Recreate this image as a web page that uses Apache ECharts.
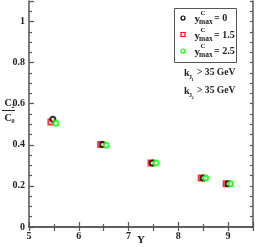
<!DOCTYPE html>
<html><head><meta charset="utf-8">
<script src="https://cdn.jsdelivr.net/npm/echarts@6/dist/echarts.min.js"></script>
<style>html,body{margin:0;padding:0;background:#fff}#c{width:256px;height:247px}</style>
</head><body><div id="c"></div>
<script>
const xBlack = [5.48, 6.48, 7.48, 8.5, 9.0];
const yBlack = [0.525, 0.402, 0.312, 0.238, 0.211];
const xRed = [5.44, 6.44, 7.45, 8.46, 8.96];
const yRed = [0.511, 0.402, 0.311, 0.238, 0.211];
const xGreen = [5.54, 6.55, 7.55, 8.55, 9.05];
const yGreen = [0.505, 0.398, 0.311, 0.238, 0.211];
const xTicks = [5, 6, 7, 8, 9];
const yTicks = [0, 0.2, 0.4, 0.6, 0.8, 1];
const legendValues = ['0', '1.5', '2.5'];

const F = 'Liberation Serif';
const axisCol = '#555';
const txt = '#222';
const pair = (xs, ys) => xs.map((x, i) => [x, ys[i]]);
const chart = echarts.init(document.getElementById('c'));
const lbl = {fontFamily: F, fontWeight: 'bold', fontSize: 10, color: txt};
const T = (x, y, text, size) => ({type: 'text', x, y, z: 10, style: {text, font: 'bold ' + size + 'px ' + F, fill: txt, textVerticalAlign: 'middle'}});
chart.setOption({
  animation: false,
  grid: {left: 29, right: 1, top: 1, bottom: 20},
  xAxis: [{
    type: 'value', min: 5, max: 9.5, interval: 1,
    axisLine: {lineStyle: {color: axisCol, width: 1.5}},
    axisTick: {inside: true, length: 5, lineStyle: {color: axisCol, width: 1.2}},
    minorTick: {show: true, splitNumber: 2, length: 3, lineStyle: {color: axisCol, width: 1.2}},
    splitLine: {show: false},
    axisLabel: Object.assign({margin: 4, formatter: v => xTicks.includes(v) ? String(v) : ''}, lbl)
  }, {
    type: 'value', position: 'top', min: 5, max: 9.5, interval: 0.5,
    axisLine: {lineStyle: {color: axisCol, width: 1.5}},
    axisTick: {inside: true, length: 4, lineStyle: {color: axisCol, width: 1.2}},
    splitLine: {show: false}, axisLabel: {show: false}
  }],
  yAxis: [{
    type: 'value', min: 0, max: 1.1, interval: 0.2,
    axisLine: {show: true, lineStyle: {color: axisCol, width: 1.5}},
    axisTick: {show: true, inside: true, length: 5, lineStyle: {color: axisCol, width: 1.2}},
    minorTick: {show: true, splitNumber: 4, length: 3, lineStyle: {color: axisCol, width: 1.2}},
    splitLine: {show: false},
    axisLabel: Object.assign({margin: 4, formatter: v => yTicks.some(t => Math.abs(t - v) < 1e-6) ? String(+v.toFixed(1)) : ''}, lbl)
  }, {
    type: 'value', position: 'right', min: 0, max: 1.1, interval: 0.05,
    axisLine: {show: true, lineStyle: {color: axisCol, width: 1.5}},
    axisTick: {show: true, inside: true, length: 3, lineStyle: {color: axisCol, width: 1.2}},
    splitLine: {show: false}, axisLabel: {show: false}
  }],
  series: [
    {type: 'scatter', data: pair(xRed, yRed), symbol: 'emptyRect', symbolSize: 5,
     itemStyle: {color: '#f00', borderColor: '#f00', borderWidth: 1.5}},
    {type: 'scatter', data: pair(xBlack, yBlack), symbol: 'emptyCircle', symbolSize: 5,
     itemStyle: {color: '#000', borderColor: '#000', borderWidth: 1.2}},
    {type: 'scatter', data: pair(xGreen, yGreen), symbol: 'emptyCircle', symbolSize: 5,
     itemStyle: {color: '#0f0', borderColor: '#0f0', borderWidth: 1.5}}
  ],
  graphic: [
    {type: 'rect', shape: {x: 174.5, y: 8.5, width: 62, height: 54}, style: {fill: '#fff', stroke: '#555', lineWidth: 1}},
    {type: 'circle', shape: {cx: 183, cy: 18, r: 2}, style: {fill: 'none', stroke: '#000', lineWidth: 1.2}},
    {type: 'rect', shape: {x: 181, y: 32.5, width: 4, height: 4}, style: {fill: 'none', stroke: '#f00', lineWidth: 1.2}},
    {type: 'circle', shape: {cx: 183, cy: 51, r: 2}, style: {fill: 'none', stroke: '#0f0', lineWidth: 1.2}},
    ...legendValues.flatMap((v, i) => {
      const cy = [18, 35, 51][i];
      return [
        T(194.5, cy + 1, 'y', 11),
        T(200.5, cy - 5, 'C', 7),
        T(199, cy + 4, 'max', 7.5),
        T(214, cy, '= ' + v, 10)
      ];
    }),
    ...[['1', 73], ['2', 91]].flatMap(([n, cy]) => [
      T(184, cy, 'k', 10),
      T(189, cy + 4, 'J', 6),
      T(191.5, cy + 7, n, 4.5),
      T(197, cy, '> 35 GeV', 9.6)
    ]),
    T(4.5, 103.5, 'C', 10),
    T(11.5, 106.5, '2', 6),
    {type: 'line', shape: {x1: 2, y1: 110.5, x2: 15, y2: 110.5}, style: {stroke: txt, lineWidth: 1}},
    T(4.5, 118.5, 'C', 10),
    T(11.5, 121.5, '0', 6),
    T(137, 240, 'Y', 11)
  ]
});
</script></body></html>
